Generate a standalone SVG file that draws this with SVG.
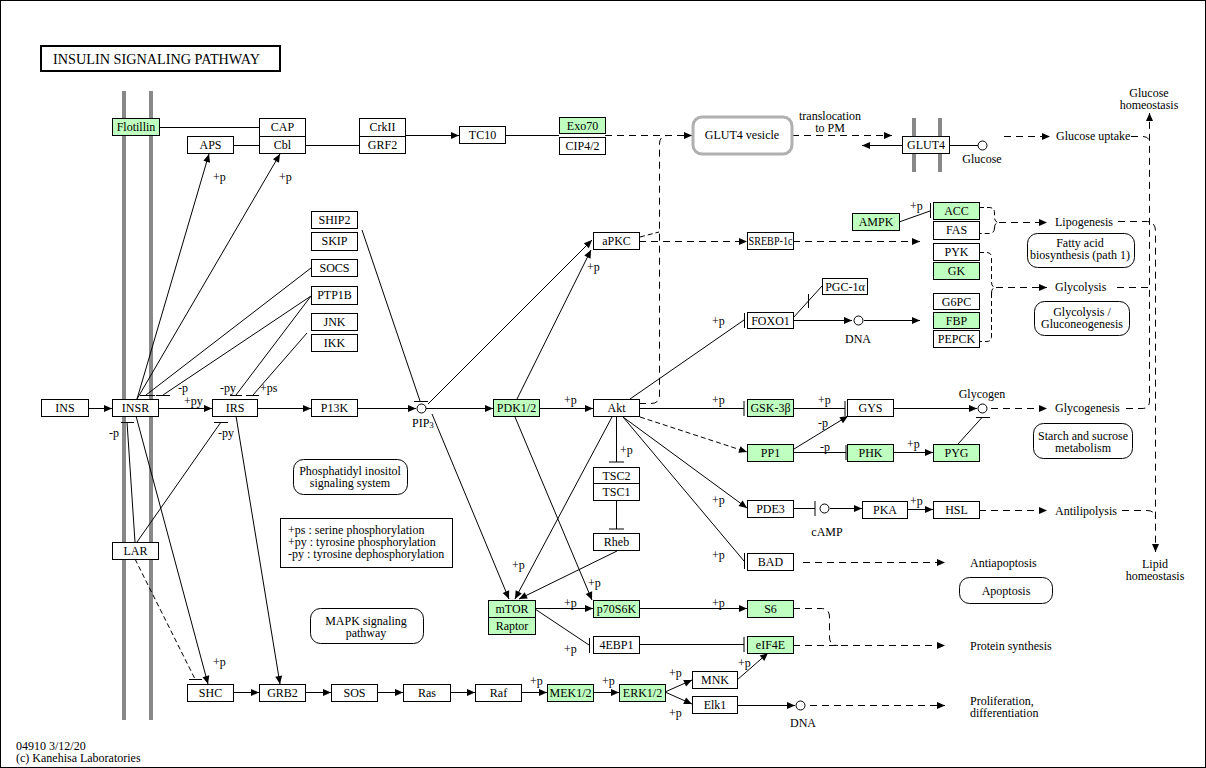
<svg xmlns="http://www.w3.org/2000/svg" width="1206" height="768" viewBox="0 0 1206 768">
<defs>
<marker id="a" markerUnits="userSpaceOnUse" markerWidth="9" markerHeight="8" refX="8" refY="4" orient="auto" overflow="visible"><path d="M0,0.5 L8,4 L0,7.5 z" fill="#000"/></marker>
<marker id="b" markerUnits="userSpaceOnUse" markerWidth="2" markerHeight="16" refX="1" refY="8" orient="auto" overflow="visible"><path d="M1,0.5 V15.5" stroke="#000" stroke-width="1"/></marker>
</defs>
<style>
text{font-family:"Liberation Serif","Times New Roman",serif;font-size:12px;fill:#000}
.m{text-anchor:middle}
.ttl{font-size:15px}
.box rect{fill:#fff;stroke:#000;stroke-width:1}
.box.g rect{fill:#bfffbf}
.map rect{fill:#fff;stroke:#000;stroke-width:1}
.cpd circle{fill:#fff;stroke:#000;stroke-width:1}
#connectors line,#connectors path{stroke:#000;stroke-width:1;fill:none}
#connectors .d{stroke-dasharray:7,5}
#connectors .d2{stroke-dasharray:5,3}
.mem{stroke:#888;stroke-width:4}
</style>
<rect x="0.5" y="0.5" width="1205" height="767" fill="#fff" stroke="#000"/>
<g id="title"><rect x="41" y="46" width="239" height="25" fill="#fff" stroke="#000" stroke-width="2"/><text class="ttl" x="53" y="64" textLength="207" lengthAdjust="spacingAndGlyphs">INSULIN SIGNALING PATHWAY</text></g>
<g id="membranes">
<line class="mem" x1="124" y1="91" x2="124" y2="720"/>
<line class="mem" x1="151" y1="91" x2="151" y2="720"/>
<line class="mem" x1="914" y1="118" x2="914" y2="172"/>
<line class="mem" x1="940" y1="118" x2="940" y2="172"/>
</g>
<g id="connectors">
<line x1="159" y1="127.5" x2="259" y2="127.5"/>
<line x1="233" y1="145.5" x2="259" y2="145.5"/>
<line x1="305" y1="145.5" x2="359" y2="145.5"/>
<line x1="405" y1="135.5" x2="459" y2="135.5" marker-end="url(#a)"/>
<line x1="505" y1="135.5" x2="559" y2="135.5"/>
<line class="d" x1="605" y1="135.5" x2="692" y2="135.5" marker-end="url(#a)"/>
<path class="d" d="M639,403.5 H651 Q659.5,403.5 659.5,395 V144 Q659.5,135.5 668,135.5"/>
<line class="d2" x1="640" y1="237" x2="659" y2="232"/>
<line class="d" x1="639" y1="241.5" x2="747" y2="241.5" marker-end="url(#a)"/>
<line class="d" x1="793" y1="241.5" x2="920" y2="241.5" marker-end="url(#a)"/>
<line class="d" x1="792" y1="135.5" x2="892" y2="135.5" marker-end="url(#a)"/>
<line x1="902" y1="145.5" x2="862" y2="145.5" marker-end="url(#a)"/>
<line x1="949" y1="145.5" x2="978" y2="145.5"/>
<line class="d" x1="1004" y1="136.5" x2="1050" y2="136.5" marker-end="url(#a)"/>
<path class="d" d="M1131,136.5 H1143 Q1149.5,136.5 1149.5,143"/>
<path class="d" d="M1126,408.5 H1142 Q1149.5,408.5 1149.5,401 V113" marker-end="url(#a)"/>
<line class="d" x1="1117" y1="287.5" x2="1149" y2="287.5"/>
<path class="d" d="M1118,221.5 H1146 Q1155.5,221.5 1155.5,231 V552" marker-end="url(#a)"/>
<path class="d" d="M1122,510.5 H1147 Q1155.5,510.5 1155.5,519"/>
<line x1="899" y1="222" x2="930" y2="211"/>
<line x1="930.5" y1="203" x2="930.5" y2="218"/>
<path class="d2" d="M979,207.5 H989 Q994.5,207.5 994.5,213 V217 Q994.5,222.5 999,222.5 M994.5,228 Q994.5,222.5 999,222.5 M994.5,228 V228 Q994.5,233.5 989,233.5 H979"/>
<line class="d" x1="999" y1="222.5" x2="1047" y2="222.5" marker-end="url(#a)"/>
<path class="d2" d="M979,252.5 H987 Q991.5,252.5 991.5,258 V282 Q991.5,287.5 996,287.5 M991.5,293 Q991.5,287.5 996,287.5 M991.5,293 V336 Q991.5,341.5 987,341.5 H979"/>
<line class="d" x1="996" y1="287.5" x2="1047" y2="287.5" marker-end="url(#a)"/>
<line x1="793" y1="320.5" x2="852" y2="320.5" marker-end="url(#a)"/>
<line x1="864" y1="320.5" x2="920" y2="320.5" marker-end="url(#a)"/>
<line x1="793" y1="318" x2="822" y2="286"/>
<line x1="808.5" y1="294" x2="808.5" y2="308"/>
<line x1="630" y1="399" x2="744" y2="320"/>
<line x1="744.5" y1="313" x2="744.5" y2="328"/>
<line x1="639" y1="408.5" x2="744" y2="408.5" marker-end="url(#b)"/>
<line x1="793" y1="408.5" x2="845" y2="408.5" marker-end="url(#b)"/>
<line x1="893" y1="408.5" x2="977" y2="408.5" marker-end="url(#a)"/>
<line class="d" x1="991" y1="408.5" x2="1047" y2="408.5" marker-end="url(#a)"/>
<line x1="958" y1="444" x2="982" y2="417.5"/>
<line x1="976" y1="417.5" x2="990" y2="417.5"/>
<line x1="893" y1="452.5" x2="933" y2="452.5" marker-end="url(#a)"/>
<line x1="793" y1="452.5" x2="846" y2="452.5" marker-end="url(#b)"/>
<line x1="794" y1="449" x2="848" y2="416" marker-end="url(#a)"/>
<line class="d2" x1="640" y1="417" x2="747" y2="452" marker-end="url(#a)"/>
<line x1="623" y1="417" x2="747" y2="508" marker-end="url(#a)"/>
<line x1="623" y1="417" x2="744" y2="561"/>
<line x1="744.5" y1="553" x2="744.5" y2="569"/>
<line x1="793" y1="508.5" x2="815" y2="508.5" marker-end="url(#b)"/>
<line x1="830" y1="508.5" x2="862" y2="508.5" marker-end="url(#a)"/>
<line x1="907" y1="509.5" x2="933" y2="509.5" marker-end="url(#a)"/>
<line class="d" x1="979" y1="510.5" x2="1047" y2="510.5" marker-end="url(#a)"/>
<line x1="616.5" y1="416" x2="616.5" y2="462" marker-end="url(#b)"/>
<line x1="616.5" y1="500" x2="616.5" y2="529" marker-end="url(#b)"/>
<line x1="617" y1="551" x2="519" y2="599" marker-end="url(#a)"/>
<line x1="612" y1="417" x2="515" y2="599" marker-end="url(#a)"/>
<line x1="432" y1="414" x2="509" y2="599" marker-end="url(#a)"/>
<line x1="515" y1="417" x2="592" y2="600" marker-end="url(#a)"/>
<line x1="517" y1="399" x2="591" y2="250" marker-end="url(#a)"/>
<line x1="428" y1="404" x2="592" y2="240" marker-end="url(#a)"/>
<line x1="362" y1="230" x2="420" y2="401"/>
<line x1="414" y1="401.5" x2="428" y2="401.5"/>
<line x1="357" y1="408.5" x2="416" y2="408.5" marker-end="url(#a)"/>
<line x1="426" y1="408.5" x2="493" y2="408.5" marker-end="url(#a)"/>
<line x1="539" y1="408.5" x2="593" y2="408.5" marker-end="url(#a)"/>
<line x1="257" y1="408.5" x2="311" y2="408.5" marker-end="url(#a)"/>
<line x1="158" y1="408.5" x2="212" y2="408.5" marker-end="url(#a)"/>
<line x1="88" y1="408.5" x2="112" y2="408.5" marker-end="url(#a)"/>
<line x1="137" y1="399" x2="209" y2="154" marker-end="url(#a)"/>
<line x1="137" y1="399" x2="280" y2="154" marker-end="url(#a)"/>
<line x1="311" y1="268" x2="146" y2="395"/>
<line x1="140" y1="395.5" x2="155" y2="395.5"/>
<line x1="311" y1="296" x2="163" y2="395"/>
<line x1="156" y1="395.5" x2="170" y2="395.5"/>
<line x1="311" y1="296" x2="236" y2="395"/>
<line x1="230" y1="395.5" x2="242" y2="395.5"/>
<line x1="307" y1="333" x2="253" y2="395"/>
<line x1="246" y1="395.5" x2="259" y2="395.5"/>
<line x1="135" y1="542" x2="127" y2="422"/>
<line x1="121" y1="422.5" x2="134" y2="422.5"/>
<line x1="137" y1="542" x2="221" y2="422"/>
<line x1="214" y1="422.5" x2="228" y2="422.5"/>
<line x1="136" y1="416" x2="208" y2="684" marker-end="url(#a)"/>
<line class="d2" x1="135" y1="559" x2="195" y2="679"/>
<line x1="189" y1="679.5" x2="202" y2="679.5"/>
<line x1="236" y1="416" x2="280" y2="684" marker-end="url(#a)"/>
<line x1="233" y1="692.5" x2="259" y2="692.5" marker-end="url(#a)"/>
<line x1="305" y1="692.5" x2="331" y2="692.5" marker-end="url(#a)"/>
<line x1="377" y1="692.5" x2="403" y2="692.5" marker-end="url(#a)"/>
<line x1="450" y1="692.5" x2="475" y2="692.5" marker-end="url(#a)"/>
<line x1="521" y1="692.5" x2="547" y2="692.5" marker-end="url(#a)"/>
<line x1="593" y1="692.5" x2="619" y2="692.5" marker-end="url(#a)"/>
<line x1="665" y1="692" x2="692" y2="680" marker-end="url(#a)"/>
<line x1="665" y1="692" x2="692" y2="704" marker-end="url(#a)"/>
<line x1="737" y1="680" x2="768" y2="653" marker-end="url(#a)"/>
<line x1="737" y1="705.5" x2="795" y2="705.5" marker-end="url(#a)"/>
<line class="d" x1="810" y1="705.5" x2="945" y2="705.5" marker-end="url(#a)"/>
<line x1="535" y1="608.5" x2="593" y2="608.5" marker-end="url(#a)"/>
<line x1="535" y1="609" x2="589" y2="645"/>
<line x1="589.5" y1="638" x2="589.5" y2="653"/>
<line x1="639" y1="608.5" x2="747" y2="608.5" marker-end="url(#a)"/>
<line x1="639" y1="644.5" x2="744" y2="644.5" marker-end="url(#b)"/>
<path class="d" d="M793,608.5 H821 Q829.5,608.5 829.5,617 V637 Q829.5,645.5 838,645.5"/>
<line class="d" x1="793" y1="645.5" x2="945" y2="645.5" marker-end="url(#a)"/>
<line class="d" x1="803" y1="562.5" x2="945" y2="562.5" marker-end="url(#a)"/>
</g>
<g id="n-Flotillin" class="box g"><rect x="112.5" y="118.5" width="47" height="17"/><text class="m" x="136" y="131">Flotillin</text></g>
<g id="n-CAP" class="box"><rect x="259.5" y="118.5" width="46" height="18"/><text class="m" x="282.5" y="131">CAP</text></g>
<g id="n-Cbl" class="box"><rect x="259.5" y="136.5" width="46" height="17"/><text class="m" x="282.5" y="149">Cbl</text></g>
<g id="n-APS" class="box"><rect x="187.5" y="136.5" width="46" height="17"/><text class="m" x="210.5" y="149">APS</text></g>
<g id="n-CrkII" class="box"><rect x="359.5" y="118.5" width="46" height="18"/><text class="m" x="382.5" y="131">CrkII</text></g>
<g id="n-GRF2" class="box"><rect x="359.5" y="136.5" width="46" height="17"/><text class="m" x="382.5" y="149">GRF2</text></g>
<g id="n-TC10" class="box"><rect x="459.5" y="126.5" width="46" height="17"/><text class="m" x="482.5" y="139">TC10</text></g>
<g id="n-Exo70" class="box g"><rect x="559.5" y="117.5" width="46" height="16"/><text class="m" x="582.5" y="130">Exo70</text></g>
<g id="n-CIP42" class="box"><rect x="559.5" y="137.5" width="46" height="17"/><text class="m" x="582.5" y="150">CIP4/2</text></g>
<g id="n-GLUT4vesicle"><rect x="693" y="117" width="99" height="37" rx="9" fill="#fff" stroke="#b0b0b0" stroke-width="3"/><text class="m" x="742" y="139">GLUT4 vesicle</text></g>
<g id="n-GLUT4" class="box"><rect x="902.5" y="136.5" width="47" height="17"/><text class="m" x="926" y="149">GLUT4</text></g>
<g id="n-SHIP2" class="box"><rect x="311.5" y="211.5" width="46" height="17"/><text class="m" x="334.5" y="224">SHIP2</text></g>
<g id="n-SKIP" class="box"><rect x="311.5" y="232.5" width="46" height="18"/><text class="m" x="334.5" y="245">SKIP</text></g>
<g id="n-SOCS" class="box"><rect x="311.5" y="259.5" width="46" height="17"/><text class="m" x="334.5" y="272">SOCS</text></g>
<g id="n-PTP1B" class="box"><rect x="311.5" y="286.5" width="46" height="18"/><text class="m" x="334.5" y="299">PTP1B</text></g>
<g id="n-JNK" class="box"><rect x="311.5" y="313.5" width="46" height="17"/><text class="m" x="334.5" y="326">JNK</text></g>
<g id="n-IKK" class="box"><rect x="311.5" y="334.5" width="46" height="17"/><text class="m" x="334.5" y="347">IKK</text></g>
<g id="n-INS" class="box"><rect x="41.5" y="399.5" width="47" height="17"/><text class="m" x="65" y="412">INS</text></g>
<g id="n-INSR" class="box"><rect x="112.5" y="399.5" width="46" height="17"/><text class="m" x="135.5" y="412">INSR</text></g>
<g id="n-IRS" class="box"><rect x="212.5" y="399.5" width="45" height="17"/><text class="m" x="235" y="412">IRS</text></g>
<g id="n-P13K" class="box"><rect x="311.5" y="399.5" width="46" height="17"/><text class="m" x="334.5" y="412">P13K</text></g>
<g id="n-PDK12" class="box g"><rect x="493.5" y="399.5" width="46" height="17"/><text class="m" x="516.5" y="412">PDK1/2</text></g>
<g id="n-Akt" class="box"><rect x="593.5" y="399.5" width="46" height="17"/><text class="m" x="616.5" y="412">Akt</text></g>
<g id="n-aPKC" class="box"><rect x="593.5" y="232.5" width="46" height="17"/><text class="m" x="616.5" y="245">aPKC</text></g>
<g id="n-SREBP1c" class="box"><rect x="747.5" y="232.5" width="46" height="17"/><text class="m" x="770.5" y="245" textLength="44" lengthAdjust="spacingAndGlyphs">SREBP-1c</text></g>
<g id="n-AMPK" class="box g"><rect x="852.5" y="213.5" width="47" height="17"/><text class="m" x="876" y="226">AMPK</text></g>
<g id="n-ACC" class="box g"><rect x="933.5" y="202.5" width="46" height="17"/><text class="m" x="956.5" y="215">ACC</text></g>
<g id="n-FAS" class="box"><rect x="933.5" y="221.5" width="46" height="18"/><text class="m" x="956.5" y="234">FAS</text></g>
<g id="n-PYK" class="box"><rect x="933.5" y="243.5" width="46" height="17"/><text class="m" x="956.5" y="256">PYK</text></g>
<g id="n-GK" class="box g"><rect x="933.5" y="262.5" width="46" height="17"/><text class="m" x="956.5" y="275">GK</text></g>
<g id="n-G6PC" class="box"><rect x="933.5" y="293.5" width="46" height="16"/><text class="m" x="956.5" y="306">G6PC</text></g>
<g id="n-FBP" class="box g"><rect x="933.5" y="312.5" width="46" height="16"/><text class="m" x="956.5" y="325">FBP</text></g>
<g id="n-PEPCK" class="box"><rect x="933.5" y="330.5" width="46" height="17"/><text class="m" x="956.5" y="343">PEPCK</text></g>
<g id="n-FOXO1" class="box"><rect x="747.5" y="312.5" width="46" height="16"/><text class="m" x="770.5" y="325">FOXO1</text></g>
<g id="n-PGC1a" class="box"><rect x="822.5" y="278.5" width="45" height="16"/><text class="m" x="845" y="291">PGC-1α</text></g>
<g id="n-GSK3b" class="box g"><rect x="747.5" y="399.5" width="46" height="17"/><text class="m" x="770.5" y="412">GSK-3β</text></g>
<g id="n-GYS" class="box"><rect x="847.5" y="399.5" width="46" height="17"/><text class="m" x="870.5" y="412">GYS</text></g>
<g id="n-PP1" class="box g"><rect x="747.5" y="444.5" width="46" height="17"/><text class="m" x="770.5" y="457">PP1</text></g>
<g id="n-PHK" class="box g"><rect x="847.5" y="444.5" width="46" height="17"/><text class="m" x="870.5" y="457">PHK</text></g>
<g id="n-PYG" class="box g"><rect x="933.5" y="444.5" width="46" height="17"/><text class="m" x="956.5" y="457">PYG</text></g>
<g id="n-PDE3" class="box"><rect x="747.5" y="500.5" width="46" height="17"/><text class="m" x="770.5" y="513">PDE3</text></g>
<g id="n-PKA" class="box"><rect x="862.5" y="501.5" width="45" height="17"/><text class="m" x="885" y="514">PKA</text></g>
<g id="n-HSL" class="box"><rect x="933.5" y="501.5" width="46" height="17"/><text class="m" x="956.5" y="514">HSL</text></g>
<g id="n-TSC2" class="box"><rect x="593.5" y="467.5" width="46" height="16"/><text class="m" x="616.5" y="480">TSC2</text></g>
<g id="n-TSC1" class="box"><rect x="593.5" y="483.5" width="46" height="17"/><text class="m" x="616.5" y="496">TSC1</text></g>
<g id="n-Rheb" class="box"><rect x="593.5" y="533.5" width="46" height="17"/><text class="m" x="616.5" y="546">Rheb</text></g>
<g id="n-BAD" class="box"><rect x="747.5" y="553.5" width="46" height="17"/><text class="m" x="770.5" y="566">BAD</text></g>
<g id="n-mTOR" class="box g"><rect x="488.5" y="600.5" width="47" height="17"/><text class="m" x="512" y="613">mTOR</text></g>
<g id="n-Raptor" class="box g"><rect x="488.5" y="617.5" width="47" height="17"/><text class="m" x="512" y="630">Raptor</text></g>
<g id="n-p70S6K" class="box g"><rect x="593.5" y="600.5" width="46" height="17"/><text class="m" x="616.5" y="613">p70S6K</text></g>
<g id="n-S6" class="box g"><rect x="747.5" y="600.5" width="46" height="17"/><text class="m" x="770.5" y="613">S6</text></g>
<g id="n-4EBP1" class="box"><rect x="593.5" y="636.5" width="46" height="17"/><text class="m" x="616.5" y="649">4EBP1</text></g>
<g id="n-eIF4E" class="box g"><rect x="747.5" y="636.5" width="46" height="17"/><text class="m" x="770.5" y="649">eIF4E</text></g>
<g id="n-LAR" class="box"><rect x="112.5" y="542.5" width="46" height="17"/><text class="m" x="135.5" y="555">LAR</text></g>
<g id="n-SHC" class="box"><rect x="187.5" y="684.5" width="46" height="17"/><text class="m" x="210.5" y="697">SHC</text></g>
<g id="n-GRB2" class="box"><rect x="259.5" y="684.5" width="46" height="17"/><text class="m" x="282.5" y="697">GRB2</text></g>
<g id="n-SOS" class="box"><rect x="331.5" y="684.5" width="46" height="17"/><text class="m" x="354.5" y="697">SOS</text></g>
<g id="n-Ras" class="box"><rect x="403.5" y="684.5" width="47" height="17"/><text class="m" x="427" y="697">Ras</text></g>
<g id="n-Raf" class="box"><rect x="475.5" y="684.5" width="46" height="17"/><text class="m" x="498.5" y="697">Raf</text></g>
<g id="n-MEK12" class="box g"><rect x="547.5" y="684.5" width="46" height="17"/><text class="m" x="570.5" y="697">MEK1/2</text></g>
<g id="n-ERK12" class="box g"><rect x="619.5" y="684.5" width="46" height="17"/><text class="m" x="642.5" y="697">ERK1/2</text></g>
<g id="n-MNK" class="box"><rect x="692.5" y="671.5" width="45" height="17"/><text class="m" x="715" y="684">MNK</text></g>
<g id="n-Elk1" class="box"><rect x="692.5" y="696.5" width="45" height="17"/><text class="m" x="715" y="709">Elk1</text></g>
<g id="c-PIP3" class="cpd"><circle cx="421.5" cy="408.5" r="4.5"/><text x="412" y="427">PIP<tspan font-size="9" dy="1">3</tspan></text></g>
<g id="c-DNA1" class="cpd"><circle cx="858.5" cy="320.5" r="4.5"/><text class="m" x="858" y="343">DNA</text></g>
<g id="c-Glycogen" class="cpd"><circle cx="982.5" cy="408.5" r="4.5"/><text class="m" x="982" y="398">Glycogen</text></g>
<g id="c-Glucose" class="cpd"><circle cx="982.5" cy="145.5" r="4.5"/><text class="m" x="982" y="163">Glucose</text></g>
<g id="c-cAMP" class="cpd"><circle cx="824.5" cy="508.5" r="4.5"/><text class="m" x="827" y="536">cAMP</text></g>
<g id="c-DNA2" class="cpd"><circle cx="800.5" cy="705.5" r="4.5"/><text class="m" x="803" y="727">DNA</text></g>
<g id="m-PI" class="map"><rect x="293.5" y="459.5" width="114" height="35" rx="10"/><text class="m" x="350" y="475">Phosphatidyl inositol</text><text class="m" x="350" y="487">signaling system</text></g>
<g id="m-MAPK" class="map"><rect x="310.5" y="608.5" width="113" height="35" rx="10"/><text class="m" x="366" y="625">MAPK signaling</text><text class="m" x="366" y="637">pathway</text></g>
<g id="m-FA" class="map"><rect x="1027.5" y="233.5" width="107" height="34" rx="10"/><text class="m" x="1080" y="247">Fatty acid</text><text class="m" x="1080" y="259">biosynthesis (path 1)</text></g>
<g id="m-GLY" class="map"><rect x="1034.5" y="301.5" width="95" height="34" rx="10"/><text class="m" x="1082" y="316">Glycolysis /</text><text class="m" x="1082" y="328">Gluconeogenesis</text></g>
<g id="m-SS" class="map"><rect x="1033.5" y="423.5" width="99" height="35" rx="10"/><text class="m" x="1083" y="440">Starch and sucrose</text><text class="m" x="1083" y="452">metabolism</text></g>
<g id="m-APO" class="map"><rect x="959.5" y="577.5" width="93" height="26" rx="10"/><text class="m" x="1006" y="595">Apoptosis</text></g>
<g id="legend"><rect x="280.5" y="518.5" width="172" height="49" fill="#fff" stroke="#000"/><text x="288" y="534">+ps : serine phosphorylation</text><text x="288" y="546">+py : tyrosine phosphorylation</text><text x="288" y="558">-py : tyrosine dephosphorylation</text></g>
<g id="labels">
<text class="m" x="830" y="120">translocation</text><text class="m" x="830" y="132">to PM</text>
<text class="m" x="1149" y="97">Glucose</text><text class="m" x="1149" y="109">homeostasis</text>
<text class="m" x="1155" y="568">Lipid</text><text class="m" x="1155" y="580">homeostasis</text>
<text x="970" y="705">Proliferation,</text><text x="970" y="717">differentiation</text>
<text x="16" y="750">04910 3/12/20</text>
<text x="16" y="762">(c) Kanehisa Laboratories</text>
<text x="1056" y="140">Glucose uptake</text>
<text x="1055" y="226">Lipogenesis</text>
<text x="1055" y="291">Glycolysis</text>
<text x="1055" y="412">Glycogenesis</text>
<text x="1055" y="515">Antilipolysis</text>
<text x="970" y="567">Antiapoptosis</text>
<text x="970" y="650">Protein synthesis</text>
<text x="213" y="181">+p</text>
<text x="279" y="181">+p</text>
<text x="178" y="392">-p</text>
<text x="184" y="405">+py</text>
<text x="220" y="392">-py</text>
<text x="260" y="392">+ps</text>
<text x="109" y="437">-p</text>
<text x="218" y="437">-py</text>
<text x="213" y="666">+p</text>
<text x="587" y="271">+p</text>
<text x="564" y="404">+p</text>
<text x="712" y="325">+p</text>
<text x="712" y="404">+p</text>
<text x="620" y="454">+p</text>
<text x="712" y="504">+p</text>
<text x="818" y="404">+p</text>
<text x="818" y="427">-p</text>
<text x="820" y="451">-p</text>
<text x="907" y="448">+p</text>
<text x="910" y="505">+p</text>
<text x="910" y="210">+p</text>
<text x="712" y="559">+p</text>
<text x="512" y="569">+p</text>
<text x="588" y="587">+p</text>
<text x="564" y="607">+p</text>
<text x="712" y="607">+p</text>
<text x="564" y="653">+p</text>
<text x="530" y="685">+p</text>
<text x="602" y="685">+p</text>
<text x="669" y="677">+p</text>
<text x="669" y="717">+p</text>
<text x="738" y="667">+p</text>
</g>
</svg>
